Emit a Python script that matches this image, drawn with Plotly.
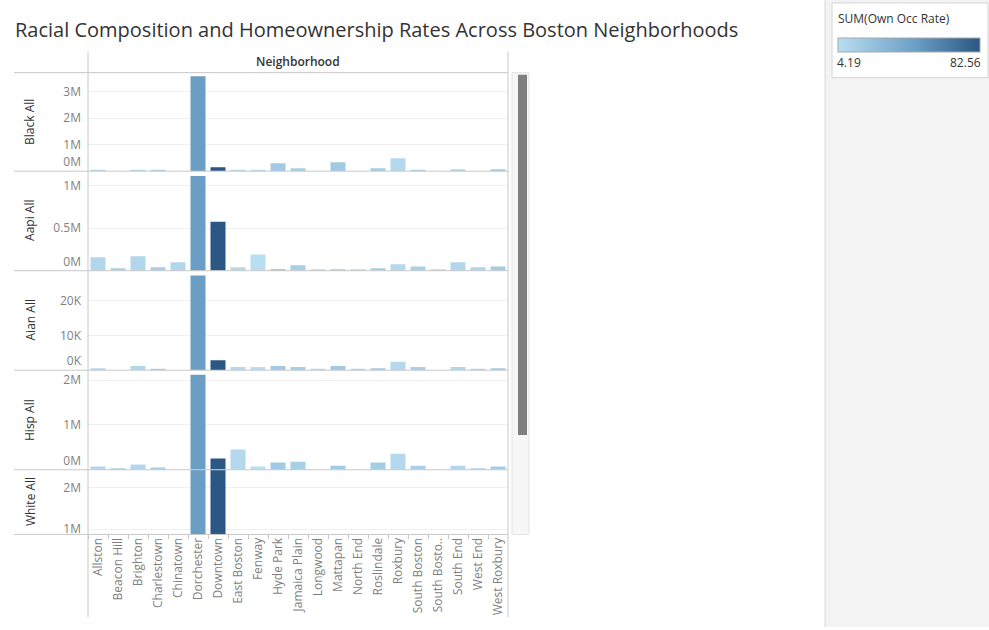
import plotly.graph_objects as go

W, H = 989, 630

neighborhoods = ["Allston", "Beacon Hill", "Brighton", "Charlestown", "Chinatown", "Dorchester",
                 "Downtown", "East Boston", "Fenway", "Hyde Park", "Jamaica Plain", "Longwood",
                 "Mattapan", "North End", "Roslindale", "Roxbury", "South Boston",
                 "South Boston Waterfront", "South End", "West End", "West Roxbury"]
tick_labels = ["Allston", "Beacon Hill", "Brighton", "Charlestown", "Chinatown", "Dorchester",
               "Downtown", "East Boston", "Fenway", "Hyde Park", "Jamaica Plain", "Longwood",
               "Mattapan", "North End", "Roslindale", "Roxbury", "South Boston",
               "South Bosto..", "South End", "West End", "West Roxbury"]

own_occ_rate = [8, 13, 8, 14, 8, 47, 82.56, 7, 4.19, 17, 14, 6, 17, 9, 16, 7, 13, 8, 8, 10, 16]

black_all = [40000, 0, 30000, 30000, 0, 3570000, 150000, 30000, 30000, 300000, 110000, 0,
             340000, 0, 110000, 490000, 40000, 0, 70000, 0, 70000]
aapi_all = [157000, 30000, 170000, 40000, 100000, 1110000, 575000, 40000, 190000, 20000, 65000,
            15000, 15000, 15000, 30000, 75000, 50000, 15000, 100000, 40000, 50000]
aian_all = [600, 0, 1200, 300, 0, 27200, 2900, 900, 900, 1200, 900, 300, 1200, 300, 600, 2400,
            900, 0, 900, 300, 600]
hisp_all = [70000, 30000, 120000, 50000, 0, 2120000, 250000, 450000, 70000, 160000, 180000, 0,
            90000, 0, 160000, 360000, 90000, 0, 90000, 20000, 70000]
white_all = [600000, 500000, 700000, 450000, 100000, 4800000, 2900000, 350000, 300000, 400000,
             800000, 50000, 60000, 300000, 550000, 250000, 650000, 150000, 500000, 150000, 750000]

row_names = ["Black All", "Aapi All", "Aian All", "Hisp All", "White All"]
row_values = [black_all, aapi_all, aian_all, hisp_all, white_all]
row_ranges = [[0, 3710000], [0, 1168000], [0, 28600], [0, 2222000], [872000, 2442000]]
row_tickvals = [[1e6, 2e6, 3e6], [5e5, 1e6], [1e4, 2e4], [1e6, 2e6], [1e6, 2e6]]
row_ticktext = [["1M", "2M", "3M"], ["0.5M", "1M"], ["10K", "20K"], ["1M", "2M"], ["1M", "2M"]]
zero_text = ["0M", "0M", "0K", "0M", None]

# pixel rows (top, bottom)
row_px = [(73, 172), (172, 272), (272, 372), (372, 472), (472, 537)]
X0, X1 = 88, 508

def xp(x):
    return x / W

def yp(y):
    return 1 - y / H

fig = go.Figure()
GRID = "#efefef"
LINE = "#c8c8c8"
TICKC = "#7f7f7f"
FONT = "Open Sans"

layout_axes = {}
for i in range(5):
    n = i + 1
    xa = "x" if n == 1 else f"x{n}"
    ya = "y" if n == 1 else f"y{n}"
    fig.add_trace(go.Bar(
        x=neighborhoods, y=row_values[i], xaxis=xa, yaxis=ya,
        marker=dict(color=own_occ_rate, coloraxis="coloraxis", line=dict(width=0)),
        showlegend=False, name=row_names[i],
        hovertemplate="%{x}<br>" + row_names[i] + ": %{y}<extra></extra>"))
    top, bot = row_px[i]
    xkey = "xaxis" if n == 1 else f"xaxis{n}"
    ykey = "yaxis" if n == 1 else f"yaxis{n}"
    xcfg = dict(domain=[xp(X0), xp(X1)], anchor=ya, showgrid=False, zeroline=False,
                showline=False, type="category", fixedrange=True)
    if n != 1:
        xcfg["matches"] = "x"
    if n == 5:
        xcfg.update(showticklabels=True, tickangle=-90, ticks="outside", ticklen=4,
                    tickcolor=LINE, tickson="boundaries",
                    tickvals=neighborhoods, ticktext=tick_labels,
                    tickfont=dict(family=FONT, size=12, color=TICKC))
    else:
        xcfg.update(showticklabels=False, ticks="")
    layout_axes[xkey] = xcfg
    layout_axes[ykey] = dict(
        domain=[yp(bot), yp(top)], anchor=xa, range=row_ranges[i],
        showgrid=True, gridcolor=GRID, gridwidth=1, zeroline=False, showline=False,
        tickvals=row_tickvals[i], ticktext=row_ticktext[i], ticks="",
        ticklabelstandoff=6, tickfont=dict(family=FONT, size=12, color=TICKC),
        fixedrange=True)

# overlay axes carrying the shifted zero label (as Tableau nudges it inside the pane)
k = 6
for i in range(5):
    if zero_text[i] is None:
        continue
    n = i + 1
    ya_base = "y" if n == 1 else f"y{n}"
    xa = "x" if n == 1 else f"x{n}"
    layout_axes[f"yaxis{k}"] = dict(
        overlaying=ya_base, anchor=xa, range=row_ranges[i], showgrid=False, zeroline=False,
        showline=False, tickvals=[row_ranges[i][0]], ticktext=[zero_text[i]], ticks="",
        ticklabelstandoff=6, ticklabelshift=-9,
        tickfont=dict(family=FONT, size=12, color=TICKC), fixedrange=True)
    fig.add_trace(go.Scatter(x=[None], y=[None], xaxis=xa, yaxis=f"y{k}",
                             showlegend=False, hoverinfo="skip"))
    k += 1

shapes = []
# right gray area
shapes.append(dict(type="rect", xref="paper", yref="paper", x0=xp(825), x1=1, y0=0, y1=1,
                   fillcolor="#f3f3f3", line=dict(width=0), layer="below"))
shapes.append(dict(type="line", xref="paper", yref="paper", x0=xp(825), x1=xp(825), y0=0, y1=1,
                   line=dict(color="#d9d9d9", width=1)))
# legend box
shapes.append(dict(type="rect", xref="paper", yref="paper", x0=xp(832), x1=xp(988),
                   y0=yp(78), y1=yp(3), fillcolor="white", line=dict(color="#d4d4d4", width=1),
                   layer="below"))
# horizontal dividers
for y in [73, 172, 272, 372, 472, 537]:
    shapes.append(dict(type="line", xref="paper", yref="paper", x0=xp(14), x1=xp(X1),
                       y0=yp(y), y1=yp(y), line=dict(color=LINE, width=1)))
# vertical borders
for x in [X0, X1]:
    shapes.append(dict(type="line", xref="paper", yref="paper", x0=xp(x), x1=xp(x),
                       y0=yp(620), y1=yp(52), line=dict(color=LINE, width=1)))
# scrollbar
shapes.append(dict(type="rect", xref="paper", yref="paper", x0=xp(512), x1=xp(529),
                   y0=yp(537), y1=yp(73), fillcolor="#f7f7f7", line=dict(color="#e4e4e4", width=1)))
shapes.append(dict(type="rect", xref="paper", yref="paper", x0=xp(518), x1=xp(527),
                   y0=yp(437), y1=yp(75), fillcolor="#7f7f7f", line=dict(width=0)))

annotations = []
annotations.append(dict(text="Racial Composition and Homeownership Rates Across Boston Neighborhoods",
                        xref="paper", yref="paper", x=xp(13), y=yp(30), xanchor="left",
                        yanchor="middle", showarrow=False,
                        font=dict(family=FONT, size=20, color="#333333")))
annotations.append(dict(text="Neighborhood", xref="paper", yref="paper", x=xp(298), y=yp(62),
                        xanchor="center", yanchor="middle", showarrow=False,
                        font=dict(family=FONT, size=12, color="#333333", weight=600)))
for i, name in enumerate(row_names):
    top, bot = row_px[i]
    annotations.append(dict(text=name, xref="paper", yref="paper", x=xp(30), y=yp((top + bot) / 2),
                            xanchor="center", yanchor="middle", textangle=-90, showarrow=False,
                            font=dict(family=FONT, size=12, color="#333333")))
annotations.append(dict(text="SUM(Own Occ Rate)", xref="paper", yref="paper", x=xp(836), y=yp(19),
                        xanchor="left", yanchor="middle", showarrow=False,
                        font=dict(family=FONT, size=12, color="#333333")))
annotations.append(dict(text=f"{min(own_occ_rate):.2f}", xref="paper", yref="paper", x=xp(835),
                        y=yp(63), xanchor="left", yanchor="middle", showarrow=False,
                        font=dict(family=FONT, size=12, color="#333333")))
annotations.append(dict(text=f"{max(own_occ_rate):.2f}", xref="paper", yref="paper", x=xp(983),
                        y=yp(63), xanchor="right", yanchor="middle", showarrow=False,
                        font=dict(family=FONT, size=12, color="#333333")))

fig.update_layout(
    width=W, height=H, margin=dict(l=0, r=0, t=0, b=0),
    paper_bgcolor="white", plot_bgcolor="white",
    bargap=0.25, showlegend=False,
    font=dict(family=FONT),
    coloraxis=dict(
        cmin=min(own_occ_rate), cmax=max(own_occ_rate),
        colorscale=[[0, "#b9ddf1"], [0.55, "#6a9ec5"], [1, "#2a5783"]],
        colorbar=dict(orientation="h", x=xp(838), xanchor="left", y=yp(38), yanchor="top",
                      len=142, lenmode="pixels", thickness=14, thicknessmode="pixels",
                      xpad=0, ypad=0, showticklabels=False, ticks="",
                      outlinecolor="#a8a8a8", outlinewidth=1)),
    shapes=shapes, annotations=annotations,
    **layout_axes)

fig.write_html("out.html", config={"displayModeBar": False},
               post_script="document.body.style.margin='0';document.body.style.padding='0';")
